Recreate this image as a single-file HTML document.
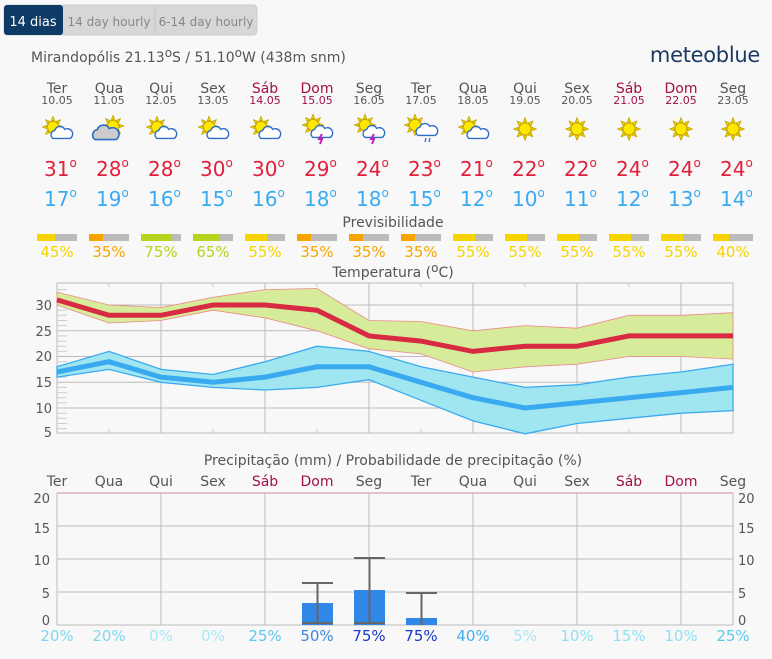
<!DOCTYPE html><html><head><meta charset="utf-8"><style>
body{margin:0;background:#f8f8f8;font-family:"DejaVu Sans","Liberation Sans",sans-serif;}
svg text{font-family:"DejaVu Sans","Liberation Sans",sans-serif;}
.d{font-size:12px;}
</style></head><body>
<svg width="772" height="655" xmlns="http://www.w3.org/2000/svg">
<defs>
<g id="sun"><g stroke="#c8a800" stroke-width="1.2" fill="#ffe800">
<path d="M0,-13 L2,-8 L-2,-8Z M0,13 L2,8 L-2,8Z M-13,0 L-8,2 L-8,-2Z M13,0 L8,2 L8,-2Z M9,-9 L7,-4 L4,-7Z M-9,9 L-7,4 L-4,7Z M-9,-9 L-4,-7 L-7,-4Z M9,9 L4,7 L7,4Z"/>
<circle r="7"/></g></g>
<g id="cloud"><path d="M-10,6 a5,5 0 0 1 2,-9 a6,6 0 0 1 11,-1 a5,5 0 0 1 6,10 z" fill="#fff" stroke="#2a6ec8" stroke-width="1.5"/></g>
<g id="gcloud"><path d="M-10,6 a5,5 0 0 1 2,-9 a6,6 0 0 1 11,-1 a5,5 0 0 1 6,10 z" fill="#ccc" stroke="#2a6ec8" stroke-width="1.5"/></g>
</defs>
<rect width="772" height="655" fill="#f8f8f8"/>
<rect x="4" y="5" width="253" height="30" rx="4" fill="#d8d6d6" stroke="#ccc"/>
<rect x="4" y="5" width="59" height="30" rx="3" fill="#0e3a66"/>
<line x1="155" y1="6" x2="155" y2="34" stroke="#c6c4c4"/>
<text x="33" y="26" font-size="13" fill="#fff" text-anchor="middle">14 dias</text>
<text x="109" y="26" font-size="12" fill="#888" text-anchor="middle">14 day hourly</text>
<text x="206" y="26" font-size="12" fill="#888" text-anchor="middle">6-14 day hourly</text>
<text x="31" y="62" font-size="14" fill="#555">Mirandopólis  21.13<tspan class="d" dy="-5">o</tspan><tspan dy="5">S / 51.10</tspan><tspan class="d" dy="-5">o</tspan><tspan dy="5">W (438m snm)</tspan></text>
<text x="760" y="62" font-size="21" fill="#1c3a60" text-anchor="end" letter-spacing="-0.3">meteoblue</text>
<g font-size="14" text-anchor="middle" fill="#555">
<text x="57" y="93">Ter</text><text x="109" y="93">Qua</text><text x="161" y="93">Qui</text><text x="213" y="93">Sex</text><text x="265" y="93" fill="#a0104a">Sáb</text><text x="317" y="93" fill="#a0104a">Dom</text><text x="369" y="93">Seg</text><text x="421" y="93">Ter</text><text x="473" y="93">Qua</text><text x="525" y="93">Qui</text><text x="577" y="93">Sex</text><text x="629" y="93" fill="#a0104a">Sáb</text><text x="681" y="93" fill="#a0104a">Dom</text><text x="733" y="93">Seg</text>
</g>
<g font-size="11" text-anchor="middle" fill="#555">
<text x="57" y="104">10.05</text><text x="109" y="104">11.05</text><text x="161" y="104">12.05</text><text x="213" y="104">13.05</text><text x="265" y="104" fill="#a0104a">14.05</text><text x="317" y="104" fill="#a0104a">15.05</text><text x="369" y="104">16.05</text><text x="421" y="104">17.05</text><text x="473" y="104">18.05</text><text x="525" y="104">19.05</text><text x="577" y="104">20.05</text><text x="629" y="104" fill="#a0104a">21.05</text><text x="681" y="104" fill="#a0104a">22.05</text><text x="733" y="104">23.05</text>
</g>
<g transform="translate(53,127) scale(0.8)"><use href="#sun"/></g><g transform="translate(62,133) scale(0.9)"><use href="#cloud"/></g>
<g transform="translate(113,126) scale(0.8)"><use href="#sun"/></g><g transform="translate(106,133) scale(1.1)"><use href="#gcloud"/></g>
<g transform="translate(157,127) scale(0.8)"><use href="#sun"/></g><g transform="translate(166,133) scale(0.9)"><use href="#cloud"/></g>
<g transform="translate(209,127) scale(0.8)"><use href="#sun"/></g><g transform="translate(218,133) scale(0.9)"><use href="#cloud"/></g>
<g transform="translate(261,127) scale(0.8)"><use href="#sun"/></g><g transform="translate(270,133) scale(0.9)"><use href="#cloud"/></g>
<g transform="translate(313,125) scale(0.8)"><use href="#sun"/></g><g transform="translate(322,132) scale(0.9)"><use href="#cloud"/></g><path d="M322,134 l-3,5 h3 l-2,5" stroke="#c020c0" stroke-width="2" fill="none"/>
<g transform="translate(365,125) scale(0.8)"><use href="#sun"/></g><g transform="translate(374,132) scale(0.9)"><use href="#cloud"/></g><path d="M374,134 l-3,5 h3 l-2,5" stroke="#c020c0" stroke-width="2" fill="none"/>
<g transform="translate(415,125) scale(0.8)"><use href="#sun"/></g><g transform="translate(427,130) scale(0.9)"><use href="#cloud"/></g><path d="M426,138 l-1,4 M430,138 l-1,4" stroke="#2a6ec8" stroke-width="1.3"/>
<g transform="translate(469,127) scale(0.8)"><use href="#sun"/></g><g transform="translate(478,133) scale(0.9)"><use href="#cloud"/></g>
<g transform="translate(525,129) scale(0.85)"><use href="#sun"/></g>
<g transform="translate(577,129) scale(0.85)"><use href="#sun"/></g>
<g transform="translate(629,129) scale(0.85)"><use href="#sun"/></g>
<g transform="translate(681,129) scale(0.85)"><use href="#sun"/></g>
<g transform="translate(733,129) scale(0.85)"><use href="#sun"/></g>
<g font-size="20" fill="#e0203c">
<text x="44" y="176">31<tspan class="d" dy="-9">o</tspan></text><text x="96" y="176">28<tspan class="d" dy="-9">o</tspan></text><text x="148" y="176">28<tspan class="d" dy="-9">o</tspan></text><text x="200" y="176">30<tspan class="d" dy="-9">o</tspan></text><text x="252" y="176">30<tspan class="d" dy="-9">o</tspan></text><text x="304" y="176">29<tspan class="d" dy="-9">o</tspan></text><text x="356" y="176">24<tspan class="d" dy="-9">o</tspan></text><text x="408" y="176">23<tspan class="d" dy="-9">o</tspan></text><text x="460" y="176">21<tspan class="d" dy="-9">o</tspan></text><text x="512" y="176">22<tspan class="d" dy="-9">o</tspan></text><text x="564" y="176">22<tspan class="d" dy="-9">o</tspan></text><text x="616" y="176">24<tspan class="d" dy="-9">o</tspan></text><text x="668" y="176">24<tspan class="d" dy="-9">o</tspan></text><text x="720" y="176">24<tspan class="d" dy="-9">o</tspan></text>
</g>
<g font-size="20" fill="#3aaaf0">
<text x="44" y="206">17<tspan class="d" dy="-9">o</tspan></text><text x="96" y="206">19<tspan class="d" dy="-9">o</tspan></text><text x="148" y="206">16<tspan class="d" dy="-9">o</tspan></text><text x="200" y="206">15<tspan class="d" dy="-9">o</tspan></text><text x="252" y="206">16<tspan class="d" dy="-9">o</tspan></text><text x="304" y="206">18<tspan class="d" dy="-9">o</tspan></text><text x="356" y="206">18<tspan class="d" dy="-9">o</tspan></text><text x="408" y="206">15<tspan class="d" dy="-9">o</tspan></text><text x="460" y="206">12<tspan class="d" dy="-9">o</tspan></text><text x="512" y="206">10<tspan class="d" dy="-9">o</tspan></text><text x="564" y="206">11<tspan class="d" dy="-9">o</tspan></text><text x="616" y="206">12<tspan class="d" dy="-9">o</tspan></text><text x="668" y="206">13<tspan class="d" dy="-9">o</tspan></text><text x="720" y="206">14<tspan class="d" dy="-9">o</tspan></text>
</g>
<text x="393" y="227" font-size="14" fill="#555" text-anchor="middle">Previsibilidade</text>
<g>
<rect x="37" y="234" width="40" height="7" fill="#bbb"/><rect x="37" y="234" width="18" height="7" fill="#f5d400"/>
<rect x="89" y="234" width="40" height="7" fill="#bbb"/><rect x="89" y="234" width="14" height="7" fill="#f5a400"/>
<rect x="141" y="234" width="40" height="7" fill="#bbb"/><rect x="141" y="234" width="30" height="7" fill="#b4d41e"/>
<rect x="193" y="234" width="40" height="7" fill="#bbb"/><rect x="193" y="234" width="26" height="7" fill="#b4d41e"/>
<rect x="245" y="234" width="40" height="7" fill="#bbb"/><rect x="245" y="234" width="22" height="7" fill="#f5d400"/>
<rect x="297" y="234" width="40" height="7" fill="#bbb"/><rect x="297" y="234" width="14" height="7" fill="#f5a400"/>
<rect x="349" y="234" width="40" height="7" fill="#bbb"/><rect x="349" y="234" width="14" height="7" fill="#f5a400"/>
<rect x="401" y="234" width="40" height="7" fill="#bbb"/><rect x="401" y="234" width="14" height="7" fill="#f5a400"/>
<rect x="453" y="234" width="40" height="7" fill="#bbb"/><rect x="453" y="234" width="22" height="7" fill="#f5d400"/>
<rect x="505" y="234" width="40" height="7" fill="#bbb"/><rect x="505" y="234" width="22" height="7" fill="#f5d400"/>
<rect x="557" y="234" width="40" height="7" fill="#bbb"/><rect x="557" y="234" width="22" height="7" fill="#f5d400"/>
<rect x="609" y="234" width="40" height="7" fill="#bbb"/><rect x="609" y="234" width="22" height="7" fill="#f5d400"/>
<rect x="661" y="234" width="40" height="7" fill="#bbb"/><rect x="661" y="234" width="22" height="7" fill="#f5d400"/>
<rect x="713" y="234" width="40" height="7" fill="#bbb"/><rect x="713" y="234" width="16" height="7" fill="#f5d400"/>
</g>
<g font-size="15" text-anchor="middle">
<text x="57" y="257" fill="#f5d400">45%</text><text x="109" y="257" fill="#f5a400">35%</text><text x="161" y="257" fill="#b4d41e">75%</text><text x="213" y="257" fill="#b4d41e">65%</text><text x="265" y="257" fill="#f5d400">55%</text><text x="317" y="257" fill="#f5a400">35%</text><text x="369" y="257" fill="#f5a400">35%</text><text x="421" y="257" fill="#f5a400">35%</text><text x="473" y="257" fill="#f5d400">55%</text><text x="525" y="257" fill="#f5d400">55%</text><text x="577" y="257" fill="#f5d400">55%</text><text x="629" y="257" fill="#f5d400">55%</text><text x="681" y="257" fill="#f5d400">55%</text><text x="733" y="257" fill="#f5d400">40%</text>
</g>
<text x="393" y="277" font-size="14" fill="#555" text-anchor="middle">Temperatura (<tspan class="d" dy="-5">o</tspan><tspan dy="5">C)</tspan></text>
<g stroke="#bbb" stroke-width="1">
<line x1="57" y1="305" x2="733" y2="305"/><line x1="57" y1="330.8" x2="733" y2="330.8"/><line x1="57" y1="356.5" x2="733" y2="356.5"/><line x1="57" y1="382.3" x2="733" y2="382.3"/><line x1="57" y1="408" x2="733" y2="408"/>
<line x1="161" y1="283" x2="161" y2="433"/><line x1="265" y1="283" x2="265" y2="433"/><line x1="369" y1="283" x2="369" y2="433"/><line x1="473" y1="283" x2="473" y2="433"/><line x1="577" y1="283" x2="577" y2="433"/><line x1="681" y1="283" x2="681" y2="433"/>
<rect x="57" y="283" width="676" height="150" fill="none"/>
</g>
<g stroke="#ccc">
<path d="M57,289.8h10M57,294.9h10M57,300.1h10M57,310.2h10M57,315.3h10M57,320.5h10M57,325.6h10M57,335.9h10M57,341.1h10M57,346.2h10M57,351.4h10M57,361.7h10M57,366.8h10M57,372h10M57,377.1h10M57,387.4h10M57,392.6h10M57,397.7h10M57,402.9h10M57,413.2h10M57,418.3h10M57,423.5h10M57,428.6h10"/>
<path d="M109,283v4M213,283v4M317,283v4M421,283v4M525,283v4M629,283v4M109,433v-4M213,433v-4M317,433v-4M421,433v-4M525,433v-4M629,433v-4"/>
</g>
<g font-size="13" fill="#555" text-anchor="end">
<text x="52" y="310">30</text><text x="52" y="336">25</text><text x="52" y="361">20</text><text x="52" y="387">15</text><text x="52" y="413">10</text><text x="52" y="437">5</text>
</g>
<path d="M57,292.1 L109,305 L161,307.6 L213,297.3 L265,289.6 L317,288.5 L369,320.5 L421,321.5 L473,330.8 L525,325.6 L577,328.2 L629,315.3 L681,315.3 L733,312.7 L733,359.1 L681,356.5 L629,356.5 L577,364.2 L525,366.8 L473,372 L421,353.9 L369,348.8 L317,330.8 L265,317.9 L213,310.2 L161,320.5 L109,323 L57,305Z" fill="#d6ec9a" stroke="#e88" stroke-width="0.8"/>
<path d="M57,366.8 L109,351.4 L161,369.4 L213,374.5 L265,361.7 L317,346.2 L369,351.4 L421,366.8 L473,377.1 L525,387.4 L577,384.8 L629,377.1 L681,372 L733,364.2 L733,410.6 L681,413.2 L629,418.3 L577,423.5 L525,433.8 L473,420.9 L421,400.3 L369,379.7 L317,387.4 L265,390 L213,387.4 L161,382.3 L109,369.4 L57,377.1Z" fill="#a0e6f0" stroke="#3aaaf0" stroke-width="1.3"/>
<polyline points="57,299.9 109,315.3 161,315.3 213,305 265,305 317,310.2 369,335.9 421,341.1 473,351.4 525,346.2 577,346.2 629,335.9 681,335.9 733,335.9" fill="none" stroke="#d82a42" stroke-width="5"/>
<polyline points="57,372 109,361.7 161,377.1 213,382.3 265,377.1 317,366.8 369,366.8 421,382.3 473,397.7 525,408 577,402.9 629,397.7 681,392.6 733,387.4" fill="none" stroke="#3aaaf0" stroke-width="5"/>
<text x="393" y="465" font-size="14" fill="#555" text-anchor="middle">Precipitação (mm) / Probabilidade de precipitação (%)</text>
<g font-size="14" text-anchor="middle" fill="#555">
<text x="57" y="486">Ter</text><text x="109" y="486">Qua</text><text x="161" y="486">Qui</text><text x="213" y="486">Sex</text><text x="265" y="486" fill="#a0104a">Sáb</text><text x="317" y="486" fill="#a0104a">Dom</text><text x="369" y="486">Seg</text><text x="421" y="486">Ter</text><text x="473" y="486">Qua</text><text x="525" y="486">Qui</text><text x="577" y="486">Sex</text><text x="629" y="486" fill="#a0104a">Sáb</text><text x="681" y="486" fill="#a0104a">Dom</text><text x="733" y="486">Seg</text>
</g>
<g stroke="#bbb">
<line x1="57" y1="526" x2="733" y2="526"/><line x1="57" y1="559" x2="733" y2="559"/><line x1="57" y1="592" x2="733" y2="592"/>
<line x1="161" y1="493" x2="161" y2="625"/><line x1="265" y1="493" x2="265" y2="625"/><line x1="369" y1="493" x2="369" y2="625"/><line x1="473" y1="493" x2="473" y2="625"/><line x1="577" y1="493" x2="577" y2="625"/><line x1="681" y1="493" x2="681" y2="625"/>
<line x1="57" y1="493" x2="57" y2="625"/><line x1="733" y1="493" x2="733" y2="625"/><line x1="57" y1="625" x2="733" y2="625"/>
</g>
<line x1="57" y1="493" x2="733" y2="493" stroke="#d8a0b0" stroke-width="1.2"/>
<g font-size="13" fill="#555">
<text x="50" y="503" text-anchor="end">20</text><text x="50" y="533" text-anchor="end">15</text><text x="50" y="565" text-anchor="end">10</text><text x="50" y="598" text-anchor="end">5</text><text x="50" y="625" text-anchor="end">0</text>
<text x="738" y="503">20</text><text x="738" y="533">15</text><text x="738" y="565">10</text><text x="738" y="598">5</text><text x="738" y="625">0</text>
</g>
<g fill="#3088e6">
<rect x="302" y="603" width="31" height="22"/><rect x="354" y="590" width="31" height="35"/><rect x="406" y="618" width="31" height="7"/>
</g>
<g stroke="#666" stroke-width="2" fill="none">
<path d="M302,583h31M317.5,583v40M302,623h31"/>
<path d="M354,558h31M369.5,558v65M354,623h31"/>
<path d="M406,593h31M421.5,593v32"/>
</g>
<g font-size="15" text-anchor="middle">
<text x="57" y="641" fill="#7fd8f0">20%</text><text x="109" y="641" fill="#7fd8f0">20%</text><text x="161" y="641" fill="#a8e8f4">0%</text><text x="213" y="641" fill="#a8e8f4">0%</text><text x="265" y="641" fill="#5cc8f0">25%</text><text x="317" y="641" fill="#3a88e0">50%</text><text x="369" y="641" fill="#1a38c8">75%</text><text x="421" y="641" fill="#1a38c8">75%</text><text x="473" y="641" fill="#44b0f0">40%</text><text x="525" y="641" fill="#a8e8f4">5%</text><text x="577" y="641" fill="#90e0f2">10%</text><text x="629" y="641" fill="#90e0f2">15%</text><text x="681" y="641" fill="#90e0f2">10%</text><text x="733" y="641" fill="#5cc8f0">25%</text>
</g>
</svg>
</body></html>
